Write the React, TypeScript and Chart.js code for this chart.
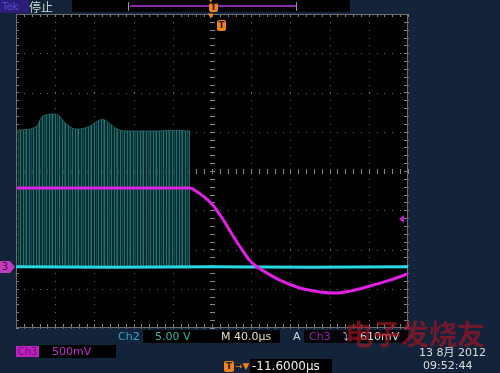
import React, { useEffect, useRef } from "react";
import { Chart, registerables } from "chart.js";
Chart.register(...registerables);

// Horizontal positions in divisions (-5..5), vertical in divisions (-4..4)
const burstX = [-4.97, -4.64, -4.46, -4.34, -4.13, -3.93, -3.72, -3.49, -3.16, -2.93, -2.78, -2.6, -2.35, -1.84, -1.33, -0.94, -0.56];
const burstTop = [1.04, 1.07, 1.15, 1.38, 1.45, 1.43, 1.2, 1.07, 1.12, 1.27, 1.32, 1.2, 1.04, 1.02, 1.02, 1.04, 1.02];
const ch2X = [-5, -2.5, 0, 2.5, 5];
const ch2Y = [-2.44, -2.45, -2.44, -2.45, -2.44];
const ch3X = [-4.97, -0.56, -0.41, -0.23, 0, 0.26, 0.51, 0.77, 0.97, 1.12, 1.35, 1.73, 2.24, 2.76, 3.14, 3.52, 4.03, 4.54, 5.0];
const ch3Y = [-0.43, -0.43, -0.51, -0.64, -0.84, -1.2, -1.61, -2.01, -2.29, -2.42, -2.57, -2.78, -2.98, -3.08, -3.11, -3.06, -2.93, -2.78, -2.62];
const xDivs = [-5, -4, -3, -2, -1, 0, 1, 2, 3, 4, 5];
const yDivs = [-4, -3, -2, -1, 0, 1, 2, 3, 4];

const gridPlugin = {
  id: "scopeGrid",
  beforeDatasetsDraw(chart: any) {
    const { ctx, chartArea: a, scales } = chart;
    const xs = scales.x, ys = scales.y;
    ctx.save();
    ctx.fillStyle = "#000";
    ctx.fillRect(a.left, a.top, a.right - a.left, a.bottom - a.top);
    ctx.fillStyle = "#6c6c6c";
    xDivs.forEach((d) => {
      const px = Math.round(xs.getPixelForValue(d));
      for (let v = -4; v <= 4.001; v += 0.2) {
        const py = Math.round(ys.getPixelForValue(v));
        ctx.fillRect(px, py, 1, 1);
      }
    });
    yDivs.forEach((d) => {
      const py = Math.round(ys.getPixelForValue(d));
      for (let v = -5; v <= 5.001; v += 0.2) {
        const px = Math.round(xs.getPixelForValue(v));
        ctx.fillRect(px, py, 1, 1);
      }
    });
    ctx.fillStyle = "#858585";
    const cx = Math.round(xs.getPixelForValue(0));
    const cy = Math.round(ys.getPixelForValue(0));
    for (let v = -4; v <= 4.001; v += 0.2) {
      const py = Math.round(ys.getPixelForValue(v));
      ctx.fillRect(cx - 2, py, 5, 1);
      ctx.fillRect(a.left, py, 3, 1);
      ctx.fillRect(a.right - 4, py, 3, 1);
    }
    for (let v = -5; v <= 5.001; v += 0.2) {
      const px = Math.round(xs.getPixelForValue(v));
      ctx.fillRect(px, cy - 2, 1, 5);
      ctx.fillRect(px, a.top, 1, 3);
      ctx.fillRect(px, a.bottom - 4, 1, 3);
    }
    ctx.strokeStyle = "#6e6e6e";
    ctx.lineWidth = 1;
    ctx.strokeRect(a.left + 0.5, a.top + 0.5, a.right - a.left - 1, a.bottom - a.top - 1);
    ctx.restore();
  },
};

function makePattern(): CanvasPattern | string {
  const c = document.createElement("canvas");
  c.width = 13;
  c.height = 4;
  const g = c.getContext("2d");
  if (!g) return "rgba(20,80,80,0.5)";
  g.fillStyle = "rgba(10,52,55,0.85)";
  g.fillRect(0, 0, 13, 4);
  g.fillStyle = "rgba(45,135,135,0.75)";
  [0, 3, 7, 10].forEach((x) => g.fillRect(x, 0, 1, 4));
  g.fillStyle = "rgba(30,100,100,0.6)";
  [5, 12].forEach((x) => g.fillRect(x, 0, 1, 4));
  const p = g.createPattern(c, "repeat");
  return p || "rgba(20,80,80,0.5)";
}

const abs = (s: React.CSSProperties): React.CSSProperties => ({ position: "absolute", whiteSpace: "nowrap", ...s });
const txt: React.CSSProperties = { fontFamily: "'DejaVu Sans', sans-serif", fontSize: 11, lineHeight: "13px" };

export default function App() {
  const ref = useRef<HTMLCanvasElement>(null);
  useEffect(() => {
    if (!ref.current) return;
    const chart = new Chart(ref.current, {
      type: "line",
      data: {
        datasets: [
          {
            label: "burst",
            data: burstX.map((x, i) => ({ x, y: burstTop[i] })),
            borderColor: "rgba(55,140,140,0.55)",
            borderWidth: 1,
            backgroundColor: makePattern() as any,
            fill: { value: -2.44 } as any,
            pointRadius: 0,
            tension: 0.3,
            order: 3,
          },
          {
            label: "Ch2",
            data: ch2X.map((x, i) => ({ x, y: ch2Y[i] })),
            borderColor: "#28d6e4",
            borderWidth: 3,
            pointRadius: 0,
            fill: false,
            order: 2,
          },
          {
            label: "Ch3",
            data: ch3X.map((x, i) => ({ x, y: ch3Y[i] })),
            borderColor: "#e020e4",
            borderWidth: 3,
            pointRadius: 0,
            fill: false,
            cubicInterpolationMode: "monotone",
            order: 1,
          },
        ],
      },
      options: {
        responsive: false,
        animation: false,
        events: [],
        layout: { padding: { left: 16, top: 14, right: 92, bottom: 45 } },
        plugins: { legend: { display: false }, tooltip: { enabled: false } },
        scales: {
          x: { type: "linear", min: -5, max: 5, display: false },
          y: { type: "linear", min: -4, max: 4, display: false },
        },
      },
      plugins: [gridPlugin],
    });
    return () => chart.destroy();
  }, []);

  const tBox = (left: number, top: number, w = 9, h = 10) => (
    <div style={abs({ left, top, width: w, height: h, background: "#f0821e", borderRadius: 2, color: "#3a1800", fontFamily: "'DejaVu Sans', sans-serif", fontWeight: "bold", fontSize: 9, lineHeight: h + "px", textAlign: "center" })}>T</div>
  );

  return (
    <div style={{ position: "fixed", left: 0, top: 0, width: 500, height: 373, background: "#13233a", overflow: "hidden" }}>
      <canvas ref={ref} width={500} height={373} style={{ position: "absolute", left: 0, top: 0 }} />
      {/* top bar */}
      <div style={abs({ left: 0, top: 0, width: 27, height: 13, background: "#2a1e7a", color: "#5a48c8", ...txt, fontSize: 10, paddingLeft: 2 })}>Tek</div>
      <div style={abs({ left: 29, top: 0, color: "#c4dcd0", fontFamily: "'Noto Sans CJK SC', sans-serif", fontSize: 12, lineHeight: "13px" })}>停止</div>
      <div style={abs({ left: 72, top: 0, width: 278, height: 12, background: "#000" })} />
      <div style={abs({ left: 130, top: 5, width: 166, height: 2, background: "#8b2aa8" })} />
      <div style={abs({ left: 128, top: 2, width: 1, height: 9, background: "#9090a8" })} />
      <div style={abs({ left: 296, top: 2, width: 1, height: 9, background: "#9090a8" })} />
      <div style={abs({ left: 208, top: -3, color: "#f0821e", fontSize: 7, lineHeight: "7px", fontFamily: "'DejaVu Sans', sans-serif" })}>▼</div>
      {tBox(209, 3, 9, 9)}
      <div style={abs({ left: 208, top: 13, color: "#f0821e", fontSize: 7, lineHeight: "7px", fontFamily: "'DejaVu Sans', sans-serif" })}>▼</div>
      {tBox(217, 20, 9, 11)}
      {/* side markers */}
      <div style={abs({ left: 0, top: 261, width: 10, height: 12, background: "#c23cc2", color: "#4a0a4a", ...txt, fontSize: 10, lineHeight: "12px", textAlign: "center" })}>3</div>
      <div style={abs({ left: 10, top: 261, width: 0, height: 0, borderTop: "6px solid transparent", borderBottom: "6px solid transparent", borderLeft: "5px solid #c23cc2" })} />
      <div style={abs({ left: 399, top: 215, width: 0, height: 0, borderTop: "4px solid transparent", borderBottom: "4px solid transparent", borderRight: "5px solid #c020c8" })} />
      {/* bottom row 1 */}
      <div style={abs({ left: 118, top: 330, color: "#2aa8c8", ...txt })}>Ch2</div>
      <div style={abs({ left: 143, top: 330, width: 137, height: 13, background: "#000" })} />
      <div style={abs({ left: 155, top: 330, color: "#3ab0a8", ...txt })}>5.00 V</div>
      <div style={abs({ left: 221, top: 330, color: "#e4dec0", ...txt })}>M 40.0µs</div>
      <div style={abs({ left: 293, top: 330, color: "#d4d4d4", ...txt })}>A</div>
      <div style={abs({ left: 304, top: 330, width: 104, height: 13, background: "#05050a" })} />
      <div style={abs({ left: 309, top: 330, color: "#8a2aa0", ...txt })}>Ch3</div>
      <div style={abs({ left: 343, top: 330, color: "#d4d4d4", ...txt })}>⤵</div>
      <div style={abs({ left: 360, top: 330, color: "#e0e0e0", ...txt })}>610mV</div>
      {/* bottom row 2 */}
      <div style={abs({ left: 16, top: 346, width: 23, height: 11, background: "#c020c0", color: "#6a0e6a", ...txt, fontSize: 10, lineHeight: "11px", textAlign: "center" })}>Ch3</div>
      <div style={abs({ left: 39, top: 345, width: 77, height: 13, background: "#000" })} />
      <div style={abs({ left: 52, top: 345, color: "#c030c8", ...txt })}>500mV</div>
      {/* bottom row 3 */}
      {tBox(224, 361, 10, 11)}
      <div style={abs({ left: 235, top: 360, color: "#f0821e", fontSize: 9, lineHeight: "13px", fontFamily: "'DejaVu Sans', sans-serif" })}>→▼</div>
      <div style={abs({ left: 250, top: 359, width: 82, height: 14, background: "#000" })} />
      <div style={abs({ left: 252, top: 360, color: "#ececec", ...txt, fontSize: 12 })}>-11.6000µs</div>
      {/* watermark */}
      <div style={abs({ left: 345, top: 316, color: "rgba(165,22,36,0.65)", fontFamily: "'Noto Sans CJK SC', sans-serif", fontWeight: "bold", fontSize: 28, lineHeight: "34px" })}>电子发烧友</div>
      {/* date */}
      <div style={abs({ left: 419, top: 347, color: "#dcdcdc", fontFamily: "'DejaVu Sans', 'Noto Sans CJK SC', sans-serif", fontSize: 11, lineHeight: "12px" })}>13 8月 2012</div>
      <div style={abs({ left: 423, top: 359, color: "#dcdcdc", ...txt })}>09:52:44</div>
    </div>
  );
}
